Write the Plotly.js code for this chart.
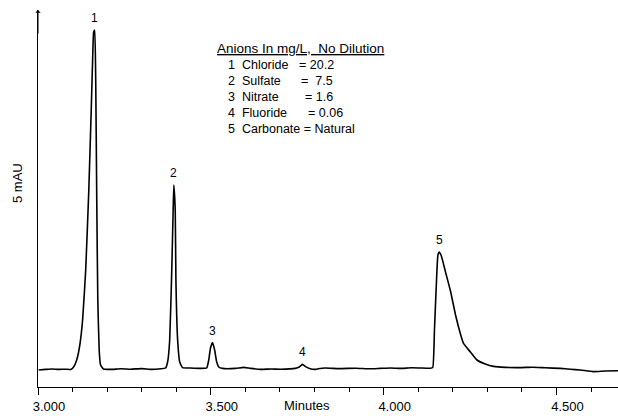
<!DOCTYPE html>
<html>
<head>
<meta charset="utf-8">
<script src="https://cdn.plot.ly/plotly-3.0.1.min.js"></script>
<style>html,body{margin:0;padding:0;background:#fff;}#chart{width:618px;height:416px;}</style>
</head>
<body>
<div id="chart"></div>
<script>
// Chromatogram trace (time in minutes, detector signal in mAU-like units)
const timeMin = [3.002,3.022,3.040,3.060,3.080,3.095,3.103,3.112,3.121,3.129,3.138,3.147,3.154,3.158,3.161,3.164,3.167,3.170,3.173,3.177,3.181,3.190,3.210,3.240,3.268,3.300,3.326,3.355,3.369,3.375,3.381,3.387,3.391,3.393,3.397,3.399,3.404,3.410,3.418,3.441,3.470,3.488,3.494,3.499,3.505,3.511,3.517,3.523,3.534,3.571,3.595,3.615,3.644,3.675,3.701,3.744,3.756,3.765,3.773,3.785,3.803,3.811,3.831,3.870,3.920,3.960,3.990,4.020,4.048,4.080,4.106,4.135,4.142,4.147,4.153,4.157,4.161,4.167,4.179,4.194,4.208,4.223,4.231,4.251,4.270,4.294,4.318,4.352,4.395,4.430,4.467,4.511,4.540,4.569,4.606,4.641,4.678];
const signal = [0.00,0.03,0.05,0.03,0.04,0.03,0.15,0.50,1.25,2.50,5.00,9.00,13.00,15.50,16.90,17.00,14.50,8.50,3.50,1.00,0.25,0.05,0.03,0.06,0.04,0.07,0.03,0.06,0.10,0.40,1.50,5.00,8.00,9.25,8.00,4.50,1.50,0.40,0.12,0.10,0.08,0.10,0.50,1.10,1.37,1.00,0.40,0.15,0.08,0.08,0.13,0.08,0.03,0.05,0.04,0.08,0.15,0.28,0.18,0.08,0.03,0.06,0.10,0.07,0.09,0.06,0.08,0.10,0.08,0.11,0.10,0.09,0.12,2.00,4.50,5.75,5.90,5.70,4.90,3.90,2.75,1.75,1.33,0.90,0.50,0.30,0.18,0.13,0.12,0.14,0.11,0.08,0.04,0.00,-0.08,-0.05,-0.04];

// Peak labels
const peakNums = ['1','2','3','4','5'];
const peakTimes = [3.164,3.393,3.505,3.765,4.161];
const peakHeights = [17.00,9.25,1.37,0.28,5.90];

// Table of anions
const tableTitle = 'Anions In mg/L,  No Dilution';
const anionNames = ['Chloride','Sulfate','Nitrate','Fluoride','Carbonate'];
const anionConc = ['20.2','7.5','1.6','0.06','Natural'];

// Axis ticks
const tickVals = [3.0,3.5,4.0,4.5];
const tickText = ['3.000','3.500','4.000','4.500'];
const yLabel = '5 mAU';
const xLabel = 'Minutes';

const W = 618, H = 416, L = 38, R = 0, T = 10, B = 29;
const px = x => (x - L) / (W - L - R);
const py = y => (H - B - y) / (H - B - T);
const FONT = 'Liberation Sans, Arial, sans-serif';

const annotations = [];
peakNums.forEach((n, i) => {
  annotations.push({x: peakTimes[i], y: peakHeights[i], xref: 'x', yref: 'y', text: n,
    showarrow: false, yanchor: 'bottom', yshift: 3, font: {family: FONT, size: 12, color: '#000'}});
});
annotations.push({x: px(215), y: py(48), xref: 'paper', yref: 'paper', xanchor: 'left', yanchor: 'middle',
  text: '<u>' + tableTitle + '</u>', showarrow: false, font: {family: FONT, size: 13.5, color: '#000'}});
const rowY = [65, 81, 97, 113, 129];
const eqX = [297, 299, 303, 306, 0];
const eqText = ['= ', '=  ', '= ', '= ', ''];
const rowSize = 12.5;
anionNames.forEach((name, i) => {
  if (i < 4) {
    annotations.push({x: px(226), y: py(rowY[i]), xref: 'paper', yref: 'paper', xanchor: 'left', yanchor: 'middle',
      text: (i + 1) + '  ' + name, showarrow: false, font: {family: FONT, size: rowSize, color: '#000'}});
    annotations.push({x: px(eqX[i]), y: py(rowY[i]), xref: 'paper', yref: 'paper', xanchor: 'left', yanchor: 'middle',
      text: eqText[i] + anionConc[i], showarrow: false, font: {family: FONT, size: rowSize, color: '#000'}});
  } else {
    annotations.push({x: px(226), y: py(rowY[i]), xref: 'paper', yref: 'paper', xanchor: 'left', yanchor: 'middle',
      text: (i + 1) + '  ' + name + ' = ' + anionConc[i], showarrow: false, font: {family: FONT, size: rowSize, color: '#000'}});
  }
});
annotations.push({x: px(17), y: py(183), xref: 'paper', yref: 'paper', xanchor: 'center', yanchor: 'middle',
  textangle: -90, text: yLabel, showarrow: false, font: {family: FONT, size: 13, color: '#000'}});
annotations.push({x: px(307), y: py(415), xref: 'paper', yref: 'paper', xanchor: 'center', yanchor: 'bottom',
  text: xLabel, showarrow: false, font: {family: FONT, size: 13, color: '#000'}});
// arrow at top of y axis
annotations.push({x: 0, y: 1, xref: 'paper', yref: 'paper', ax: 0, ay: 25, text: '', showarrow: true,
  arrowhead: 1, arrowsize: 0.9, arrowwidth: 1, arrowcolor: '#000'});

const trace = {x: timeMin, y: signal, type: 'scatter', mode: 'lines',
  line: {color: '#000', width: 1.6, shape: 'spline', smoothing: 0.4}, hoverinfo: 'skip'};

const layout = {
  width: W, height: H,
  margin: {l: L, r: R, t: T, b: B, pad: 0},
  paper_bgcolor: '#fff', plot_bgcolor: '#fff',
  showlegend: false,
  xaxis: {range: [3.0, 4.678], tickvals: tickVals, ticktext: tickText, ticks: 'outside', ticklen: 7,
    tickwidth: 1, tickcolor: '#000', showline: true, linecolor: '#000', linewidth: 1.2, showgrid: false,
    zeroline: false, ticklabelshift: 11, ticklabelstandoff: 0,
    tickfont: {family: FONT, size: 13, color: '#000'},
    minor: {dtick: 0.1, tick0: 3.0, ticks: 'outside', ticklen: 4, tickcolor: '#000', tickwidth: 1, showgrid: false}},
  yaxis: {range: [-0.85, 18.0], showline: true, linecolor: '#000', linewidth: 1.2, showgrid: false, zeroline: false,
    showticklabels: false, ticks: ''},
  annotations: annotations
};
Plotly.newPlot('chart', [trace], layout, {staticPlot: true, displayModeBar: false});
</script>
</body>
</html>
